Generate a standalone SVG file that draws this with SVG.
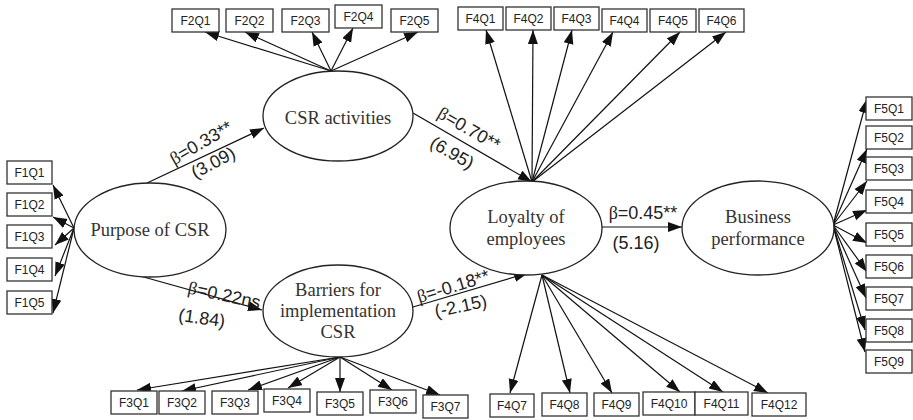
<svg xmlns="http://www.w3.org/2000/svg" width="913" height="420" viewBox="0 0 913 420">
<style>
.lat{fill:#fff;stroke:#222;stroke-width:1.3}
.lt{font-family:"Liberation Serif",serif;font-size:18.5px;fill:#333;text-anchor:middle}
.box{fill:#fff;stroke:#333;stroke-width:1.3}
.bt{font-family:"Liberation Sans",Arial,sans-serif;font-size:12px;fill:#222;text-anchor:middle}
.c{stroke:#111;stroke-width:1.2;fill:none;marker-end:url(#ah)}
.el{font-family:"Liberation Sans",Arial,sans-serif;font-size:18px;fill:#222;text-anchor:middle}
.b{font-family:"Liberation Serif",serif}
</style>
<defs>
<marker id="ah" markerUnits="userSpaceOnUse" markerWidth="15" markerHeight="11" refX="14" refY="5" orient="auto">
<path d="M0,0 L14,5 L0,10 z" fill="#111"/>
</marker>
</defs>
<rect width="913" height="420" fill="#fff"/>

<g id="connectors">
<line class="c" x1="147" y1="183" x2="264" y2="128"/>
<line class="c" x1="140" y1="276" x2="262" y2="310"/>
<line class="c" x1="413" y1="113" x2="532" y2="182"/>
<line class="c" x1="413" y1="307" x2="528" y2="273"/>
<line class="c" x1="602" y1="227" x2="682" y2="227"/>
<line class="c" x1="74" y1="228" x2="53" y2="185"/>
<line class="c" x1="74" y1="228" x2="53" y2="217"/>
<line class="c" x1="74" y1="228" x2="55" y2="245"/>
<line class="c" x1="74" y1="228" x2="55" y2="276"/>
<line class="c" x1="74" y1="228" x2="53" y2="313"/>
<line class="c" x1="331" y1="71" x2="205" y2="32"/>
<line class="c" x1="331" y1="71" x2="245" y2="32"/>
<line class="c" x1="331" y1="71" x2="312" y2="32"/>
<line class="c" x1="331" y1="71" x2="353" y2="28"/>
<line class="c" x1="331" y1="71" x2="418" y2="32"/>
<line class="c" x1="532" y1="182" x2="486" y2="30"/>
<line class="c" x1="532" y1="182" x2="533" y2="30"/>
<line class="c" x1="532" y1="182" x2="572" y2="30"/>
<line class="c" x1="532" y1="182" x2="613" y2="32"/>
<line class="c" x1="532" y1="182" x2="680" y2="32"/>
<line class="c" x1="532" y1="182" x2="726" y2="32"/>
<line class="c" x1="833" y1="225" x2="867" y2="99"/>
<line class="c" x1="833" y1="225" x2="867" y2="149"/>
<line class="c" x1="833" y1="225" x2="867" y2="181"/>
<line class="c" x1="833" y1="225" x2="867" y2="210"/>
<line class="c" x1="833" y1="225" x2="867" y2="243"/>
<line class="c" x1="833" y1="225" x2="867" y2="272"/>
<line class="c" x1="833" y1="225" x2="866" y2="298"/>
<line class="c" x1="833" y1="225" x2="865" y2="330"/>
<line class="c" x1="833" y1="225" x2="865" y2="352"/>
<line class="c" x1="340" y1="357" x2="137" y2="390"/>
<line class="c" x1="340" y1="357" x2="182" y2="391"/>
<line class="c" x1="340" y1="357" x2="248" y2="390"/>
<line class="c" x1="340" y1="357" x2="288" y2="388"/>
<line class="c" x1="340" y1="357" x2="340" y2="392"/>
<line class="c" x1="340" y1="357" x2="392" y2="390"/>
<line class="c" x1="340" y1="357" x2="440" y2="395"/>
<line class="c" x1="542" y1="275" x2="510" y2="393"/>
<line class="c" x1="542" y1="275" x2="570" y2="393"/>
<line class="c" x1="542" y1="275" x2="612" y2="393"/>
<line class="c" x1="542" y1="275" x2="680" y2="392"/>
<line class="c" x1="542" y1="275" x2="723" y2="392"/>
<line class="c" x1="542" y1="275" x2="768" y2="393"/>
</g>

<g id="edge-labels">
<text class="el" transform="translate(204,148) rotate(-30)"><tspan class="b">β</tspan>=0.33**</text>
<text class="el" transform="translate(216,168) rotate(-28)">(3.09)</text>
<text class="el" transform="translate(223,301) rotate(12)"><tspan class="b">β</tspan>=0.22ns</text>
<text class="el" transform="translate(201,324) rotate(8)">(1.84)</text>
<text class="el" transform="translate(466,134) rotate(30)"><tspan class="b">β</tspan>=0.70**</text>
<text class="el" transform="translate(449,158) rotate(30)">(6.95)</text>
<text class="el" transform="translate(455,292) rotate(-17)"><tspan class="b">β</tspan>=-0.18**</text>
<text class="el" transform="translate(462,312) rotate(-12)">(-2.15)</text>
<text class="el" x="643" y="219"><tspan class="b">β</tspan>=0.45**</text>
<text class="el" x="636" y="249">(5.16)</text>
</g>

<g id="purpose"><ellipse class="lat" cx="150" cy="230" rx="76" ry="47"/><text class="lt" x="150" y="236">Purpose of CSR</text></g>
<g id="csr-activities"><ellipse class="lat" cx="338" cy="116" rx="75" ry="45"/><text class="lt" x="338" y="124">CSR activities</text></g>
<g id="barriers"><ellipse class="lat" cx="338" cy="311" rx="75" ry="46"/><text class="lt" x="338" y="296">Barriers  for</text><text class="lt" x="338" y="317">implementation</text><text class="lt" x="338" y="338">CSR</text></g>
<g id="loyalty"><ellipse class="lat" cx="526" cy="228" rx="76" ry="47"/><text class="lt" x="526" y="223">Loyalty of</text><text class="lt" x="526" y="245">employees</text></g>
<g id="business"><ellipse class="lat" cx="758" cy="228" rx="76" ry="47"/><text class="lt" x="758" y="223">Business</text><text class="lt" x="758" y="245">performance</text></g>

<g id="F1Q1"><rect class="box" x="7" y="161" width="45" height="23"/><text class="bt" x="29.5" y="177">F1Q1</text></g>
<g id="F1Q2"><rect class="box" x="7" y="193" width="45" height="23"/><text class="bt" x="29.5" y="209">F1Q2</text></g>
<g id="F1Q3"><rect class="box" x="7" y="225" width="45" height="23"/><text class="bt" x="29.5" y="241">F1Q3</text></g>
<g id="F1Q4"><rect class="box" x="7" y="258" width="45" height="23"/><text class="bt" x="29.5" y="274">F1Q4</text></g>
<g id="F1Q5"><rect class="box" x="7" y="291" width="45" height="23"/><text class="bt" x="29.5" y="307">F1Q5</text></g>

<g id="F2Q1"><rect class="box" x="172" y="9" width="47" height="23"/><text class="bt" x="195.5" y="25">F2Q1</text></g>
<g id="F2Q2"><rect class="box" x="226" y="9" width="47" height="23"/><text class="bt" x="249.5" y="25">F2Q2</text></g>
<g id="F2Q3"><rect class="box" x="282" y="9" width="47" height="23"/><text class="bt" x="305.5" y="25">F2Q3</text></g>
<g id="F2Q4"><rect class="box" x="335" y="5" width="47" height="23"/><text class="bt" x="358.5" y="21">F2Q4</text></g>
<g id="F2Q5"><rect class="box" x="391" y="9" width="47" height="23"/><text class="bt" x="414.5" y="25">F2Q5</text></g>

<g id="F4Q1"><rect class="box" x="458" y="7" width="45" height="23"/><text class="bt" x="480.5" y="23">F4Q1</text></g>
<g id="F4Q2"><rect class="box" x="506" y="7" width="45" height="23"/><text class="bt" x="528.5" y="23">F4Q2</text></g>
<g id="F4Q3"><rect class="box" x="554" y="7" width="45" height="23"/><text class="bt" x="576.5" y="23">F4Q3</text></g>
<g id="F4Q4"><rect class="box" x="602" y="9" width="45" height="23"/><text class="bt" x="624.5" y="25">F4Q4</text></g>
<g id="F4Q5"><rect class="box" x="650" y="9" width="46" height="23"/><text class="bt" x="673" y="25">F4Q5</text></g>
<g id="F4Q6"><rect class="box" x="699" y="9" width="45" height="23"/><text class="bt" x="721.5" y="25">F4Q6</text></g>

<g id="F5Q1"><rect class="box" x="866" y="97" width="46" height="23"/><text class="bt" x="889" y="113">F5Q1</text></g>
<g id="F5Q2"><rect class="box" x="866" y="126" width="46" height="23"/><text class="bt" x="889" y="142">F5Q2</text></g>
<g id="F5Q3"><rect class="box" x="866" y="157" width="46" height="23"/><text class="bt" x="889" y="173">F5Q3</text></g>
<g id="F5Q4"><rect class="box" x="866" y="190" width="46" height="23"/><text class="bt" x="889" y="206">F5Q4</text></g>
<g id="F5Q5"><rect class="box" x="866" y="223" width="46" height="23"/><text class="bt" x="889" y="239">F5Q5</text></g>
<g id="F5Q6"><rect class="box" x="866" y="255" width="46" height="23"/><text class="bt" x="889" y="271">F5Q6</text></g>
<g id="F5Q7"><rect class="box" x="866" y="287" width="46" height="23"/><text class="bt" x="889" y="303">F5Q7</text></g>
<g id="F5Q8"><rect class="box" x="866" y="319" width="46" height="23"/><text class="bt" x="889" y="335">F5Q8</text></g>
<g id="F5Q9"><rect class="box" x="866" y="350" width="46" height="23"/><text class="bt" x="889" y="366">F5Q9</text></g>

<g id="F3Q1"><rect class="box" x="111" y="391" width="46" height="23"/><text class="bt" x="134" y="407">F3Q1</text></g>
<g id="F3Q2"><rect class="box" x="159" y="391" width="46" height="23"/><text class="bt" x="182" y="407">F3Q2</text></g>
<g id="F3Q3"><rect class="box" x="212" y="391" width="46" height="23"/><text class="bt" x="235" y="407">F3Q3</text></g>
<g id="F3Q4"><rect class="box" x="264" y="389" width="46" height="23"/><text class="bt" x="287" y="405">F3Q4</text></g>
<g id="F3Q5"><rect class="box" x="317" y="392" width="46" height="23"/><text class="bt" x="340" y="408">F3Q5</text></g>
<g id="F3Q6"><rect class="box" x="370" y="390" width="46" height="23"/><text class="bt" x="393" y="406">F3Q6</text></g>
<g id="F3Q7"><rect class="box" x="423" y="395" width="45" height="23"/><text class="bt" x="445.5" y="411">F3Q7</text></g>

<g id="F4Q7"><rect class="box" x="490" y="394" width="44" height="23"/><text class="bt" x="512" y="410">F4Q7</text></g>
<g id="F4Q8"><rect class="box" x="542" y="393" width="45" height="23"/><text class="bt" x="564.5" y="409">F4Q8</text></g>
<g id="F4Q9"><rect class="box" x="594" y="393" width="45" height="23"/><text class="bt" x="616.5" y="409">F4Q9</text></g>
<g id="F4Q10"><rect class="box" x="643" y="392" width="52" height="23"/><text class="bt" x="669" y="408">F4Q10</text></g>
<g id="F4Q11"><rect class="box" x="695" y="392" width="53" height="23"/><text class="bt" x="721.5" y="408">F4Q11</text></g>
<g id="F4Q12"><rect class="box" x="752" y="393" width="54" height="23"/><text class="bt" x="779" y="409">F4Q12</text></g>
</svg>
